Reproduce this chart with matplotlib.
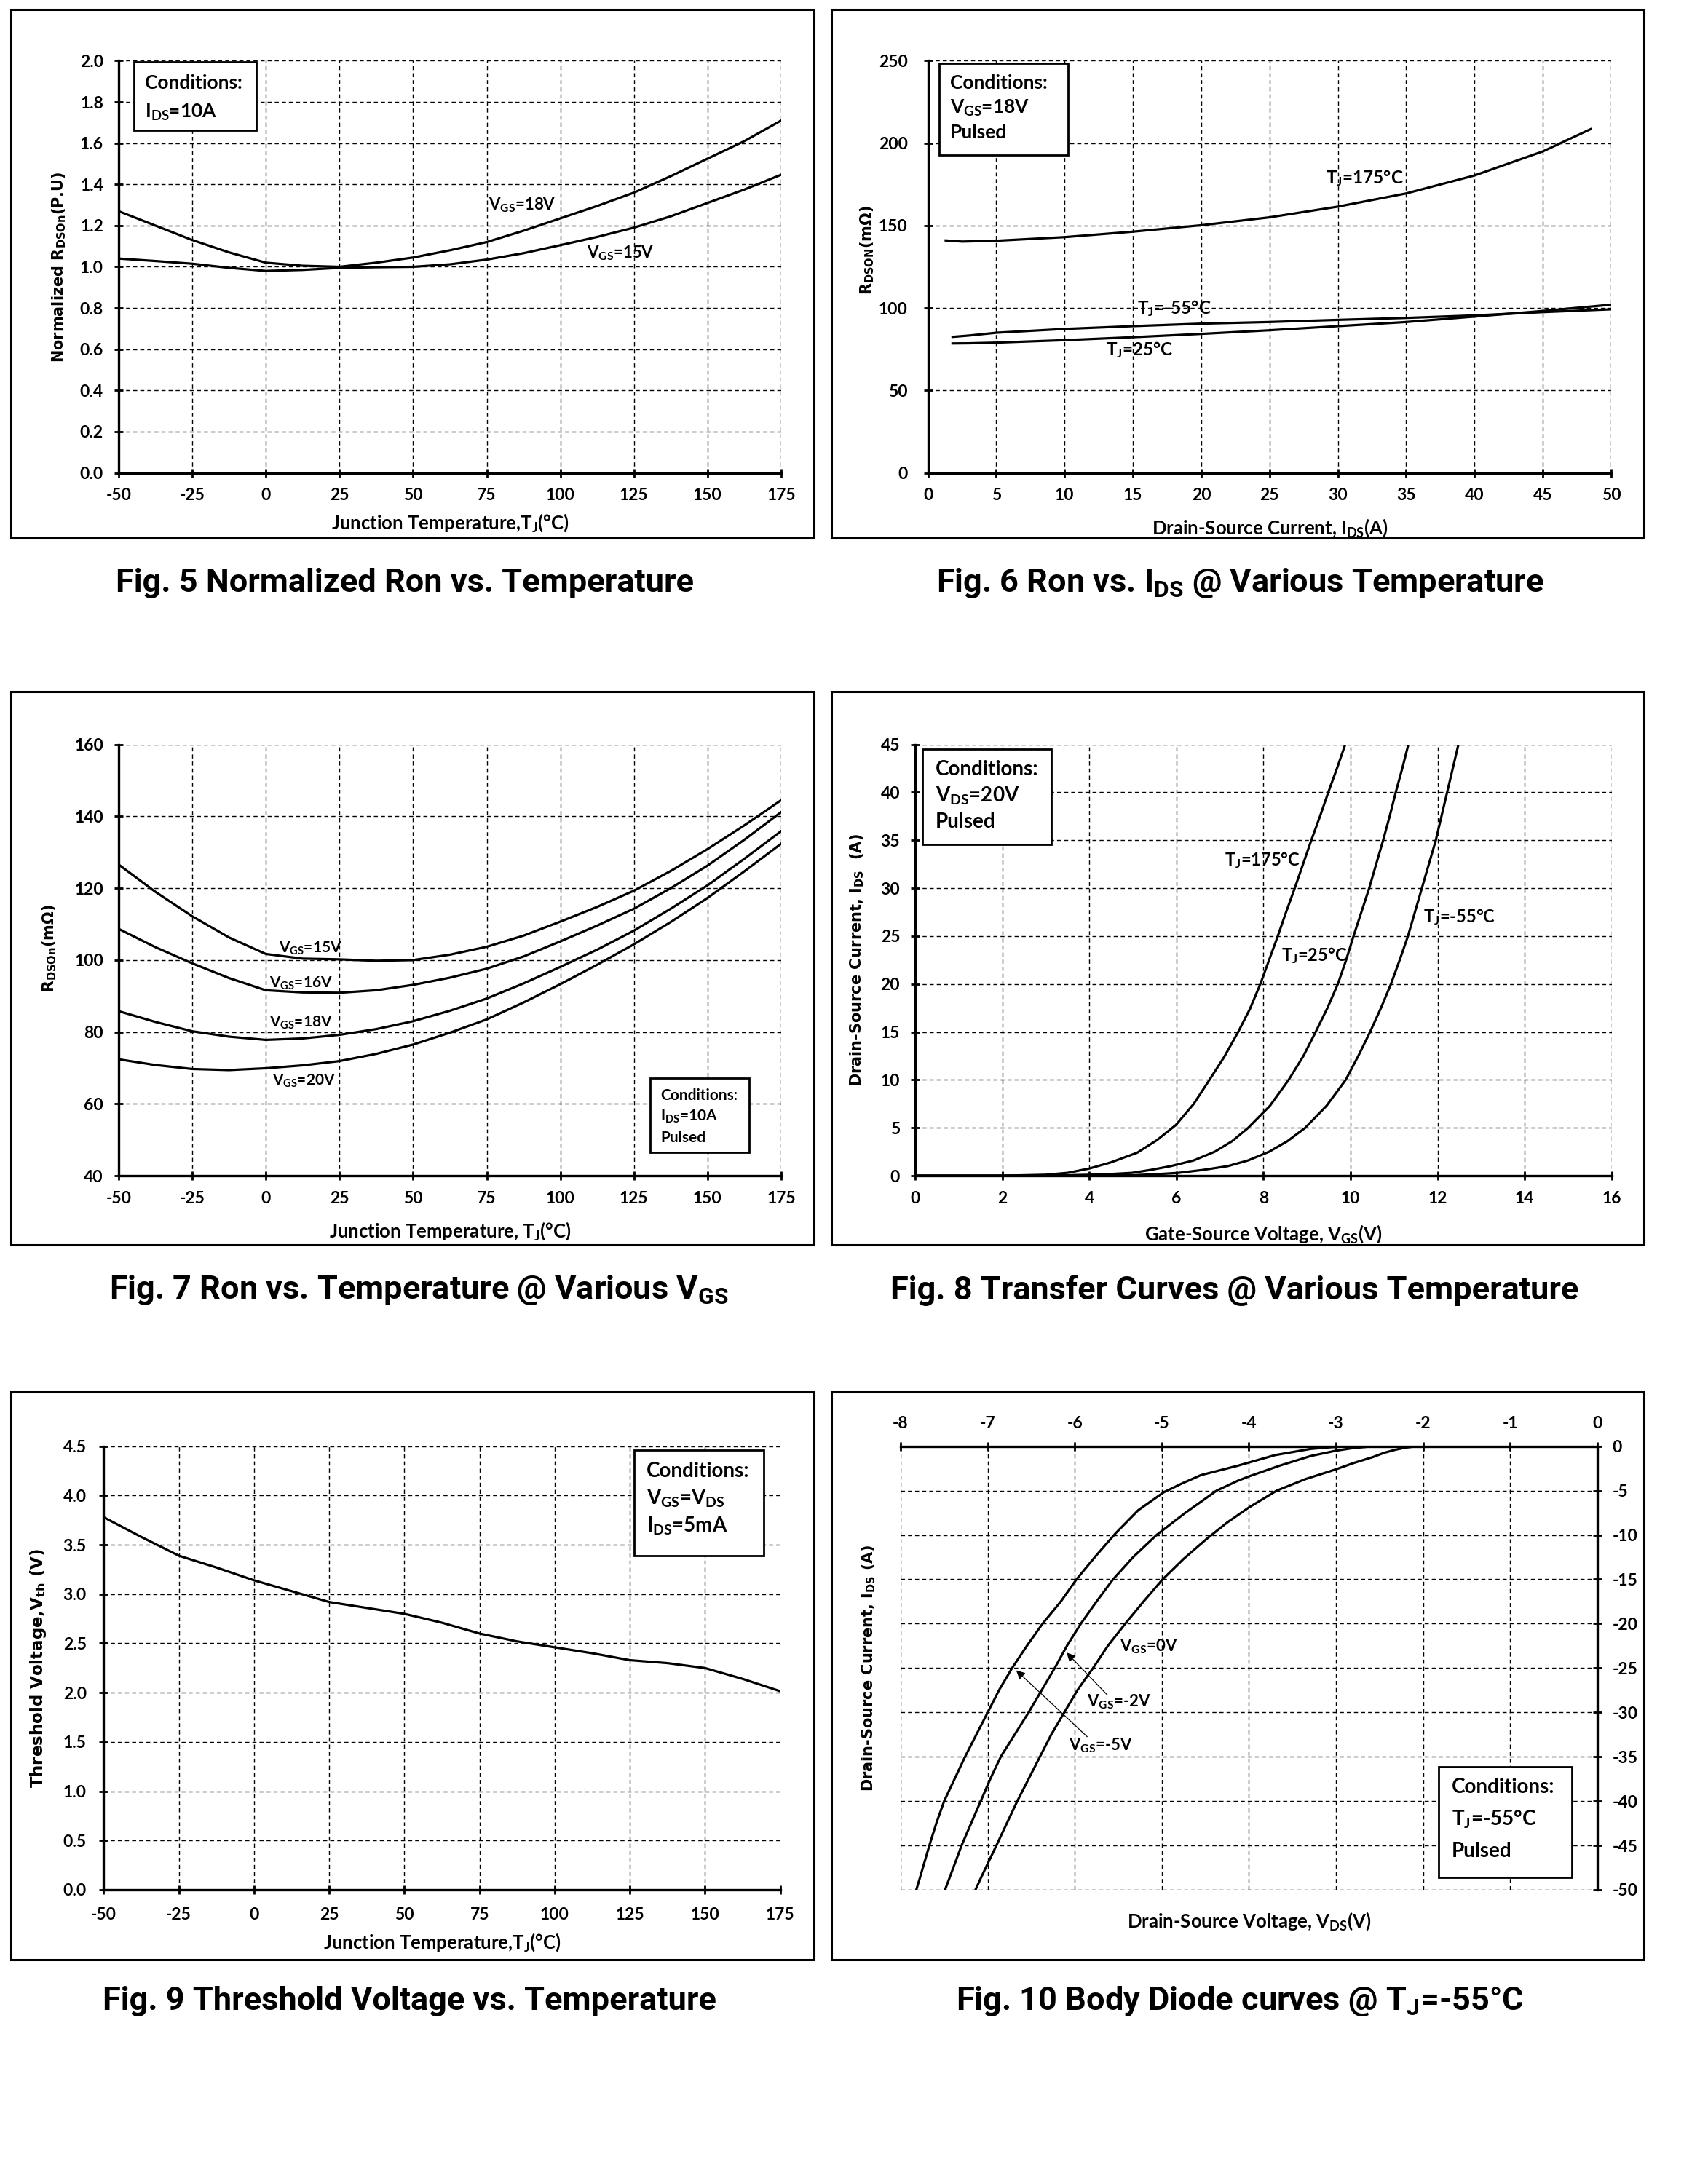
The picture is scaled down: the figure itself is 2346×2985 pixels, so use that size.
import matplotlib
matplotlib.use('Agg')
import matplotlib.pyplot as plt
from matplotlib.patches import Rectangle

plt.rcParams['font.family'] = ['Lato', 'DejaVu Sans']
plt.rcParams['font.weight'] = 'bold'
plt.rcParams['mathtext.default'] = 'regular'

# ---- data ----
# Fig 5: normalized Ron vs Tj
f5_t = [-50, -37.5, -25, -12.5, 0, 12.5, 25, 37.5, 50, 62.5, 75, 87.5, 100, 112.5, 125, 137.5, 150, 162.5, 175]
f5_vgs18 = [1.27, 1.20, 1.13, 1.07, 1.02, 1.005, 1.0, 1.02, 1.045, 1.08, 1.12, 1.175, 1.235, 1.295, 1.36, 1.44, 1.525, 1.61, 1.71]
f5_vgs15 = [1.04, 1.028, 1.015, 0.995, 0.98, 0.985, 0.995, 0.998, 1.0, 1.012, 1.035, 1.066, 1.105, 1.145, 1.19, 1.245, 1.31, 1.375, 1.447]

# Fig 6: Ron vs Ids
f6_ids_175 = [1.3, 2.5, 5, 10, 15, 20, 25, 30, 35, 40, 45, 48.5]
f6_r_175 = [141, 140.3, 140.8, 143, 146.3, 150.2, 155, 161.5, 169.5, 180.4, 195, 208.5]
f6_ids = [1.8, 3, 5, 10, 15, 20, 25, 30, 35, 40, 45, 50]
f6_r_m55 = [82.5, 83.3, 85, 87.3, 89, 90.5, 91.5, 92.8, 94, 95.5, 97.5, 99.2]
f6_r_25 = [78.5, 78.6, 79, 80.5, 82.3, 84.3, 86.5, 89, 91.5, 94.8, 98.2, 102]

# Fig 7: Ron vs Tj at various Vgs
f7_t = [-50, -37.5, -25, -12.5, 0, 12.5, 25, 37.5, 50, 62.5, 75, 87.5, 100, 112.5, 125, 137.5, 150, 162.5, 175]
f7_vgs15 = [126.6, 119, 112.2, 106.3, 101.7, 100.4, 100.2, 99.8, 100, 101.5, 103.7, 106.8, 110.7, 114.8, 119.3, 124.8, 130.9, 137.5, 144.5]
f7_vgs16 = [108.7, 103.6, 99.1, 95, 91.6, 91, 90.9, 91.6, 93.1, 95.1, 97.6, 101, 105.2, 109.6, 114.3, 120, 126.3, 133.5, 141.2]
f7_vgs18 = [85.8, 82.8, 80.2, 78.7, 77.8, 78.2, 79.2, 80.8, 83, 85.9, 89.3, 93.5, 98.1, 102.9, 108.2, 114.3, 120.8, 128.2, 135.9]
f7_vgs20 = [72.4, 70.8, 69.7, 69.4, 69.9, 70.7, 71.9, 73.9, 76.5, 79.8, 83.5, 88.2, 93.3, 98.7, 104.4, 110.6, 117.3, 124.7, 132.4]

# Fig 8: transfer curves
f8_v_175 = [0, 2, 3, 3.5, 4.0, 4.5, 5.1, 5.55, 5.99, 6.4, 6.76, 7.1, 7.42, 7.69, 7.93, 8.13, 8.33, 8.52, 8.72, 8.91, 9.1, 9.3, 9.49, 9.69, 9.88]
f8_i_175 = [0, 0, 0.1, 0.3, 0.75, 1.4, 2.4, 3.7, 5.3, 7.5, 10, 12.4, 15, 17.4, 20, 22.5, 25, 27.5, 30, 32.5, 35, 37.5, 40, 42.5, 45]
f8_v_25 = [0, 3, 4, 4.5, 4.98, 5.4, 5.87, 6.4, 6.88, 7.28, 7.65, 8.15, 8.58, 8.92, 9.2, 9.47, 9.71, 9.9, 10.07, 10.25, 10.43, 10.59, 10.75, 10.9, 11.04, 11.19, 11.33]
f8_i_25 = [0, 0, 0.1, 0.18, 0.3, 0.6, 1.0, 1.6, 2.5, 3.6, 5, 7.3, 10, 12.5, 15, 17.5, 20, 22.5, 25, 27.5, 30, 32.5, 35, 37.5, 40, 42.5, 45]
f8_v_m55 = [0, 4, 4.98, 5.5, 6.05, 6.6, 7.18, 7.65, 8.13, 8.55, 8.96, 9.45, 9.89, 10.18, 10.45, 10.7, 10.93, 11.13, 11.32, 11.48, 11.64, 11.8, 11.96, 12.09, 12.22, 12.35, 12.48]
f8_i_m55 = [0, 0, 0.05, 0.15, 0.3, 0.6, 1, 1.6, 2.5, 3.6, 5, 7.3, 10, 12.5, 15, 17.5, 20, 22.5, 25, 27.5, 30, 32.5, 35, 37.5, 40, 42.5, 45]

# Fig 9: threshold voltage vs Tj
f9_t = [-50, -37.5, -25, -12.5, 0, 12.5, 25, 37.5, 50, 62.5, 75, 87.5, 100, 112.5, 125, 137.5, 150, 162.5, 175]
f9_vth = [3.78, 3.58, 3.39, 3.27, 3.14, 3.03, 2.92, 2.86, 2.80, 2.71, 2.60, 2.52, 2.46, 2.40, 2.33, 2.30, 2.25, 2.14, 2.015]

# Fig 10: body diode at Tj=-55C
f10_v_0 = [-2.07, -2.2, -2.32, -2.45, -2.57, -2.8, -3.0, -3.35, -3.68, -4.0, -4.25, -4.48, -4.75, -4.99, -5.21, -5.42,
           -5.62, -5.79, -5.97, -6.12, -6.27, -6.40, -6.53, -6.66, -6.78, -6.90, -7.08, -7.14]
f10_i_0 = [0, -0.15, -0.4, -0.75, -1.2, -1.9, -2.6, -3.7, -5, -6.9, -8.6, -10.4, -12.7, -15, -17.5, -20,
           -22.5, -25, -27.5, -30, -32.5, -35, -37.5, -40, -42.5, -45, -48.7, -50]
f10_v_m2 = [-2.57, -2.8, -3.0, -3.29, -3.65, -4.0, -4.13, -4.37, -4.73, -5.06, -5.33, -5.56, -5.75, -5.93,
            -6.09, -6.23, -6.38, -6.53, -6.69, -6.85, -6.97, -7.08, -7.19, -7.30, -7.44, -7.49]
f10_i_m2 = [0, -0.2, -0.5, -1.1, -2.2, -3.4, -3.9, -5, -7.5, -10, -12.5, -15, -17.5, -20,
            -22.5, -25, -27.5, -30, -32.5, -35, -37.5, -40, -42.5, -45, -48.7, -50]
f10_v_m5 = [-2.87, -3.05, -3.29, -3.7, -4.13, -4.55, -4.77, -4.98, -5.27, -5.53, -5.77, -5.98, -6.16, -6.37,
            -6.55, -6.72, -6.87, -7.0, -7.13, -7.26, -7.38, -7.5, -7.59, -7.67, -7.78, -7.82]
f10_i_m5 = [0, -0.1, -0.3, -1.0, -2.2, -3.25, -4.2, -5.2, -7.2, -9.8, -12.5, -15, -17.5, -20,
            -22.5, -25, -27.5, -30, -32.5, -35, -37.5, -40, -42.5, -45, -48.7, -50]

LW = 2.3
TICK = 16.5
YLAB = dict(family='DejaVu Sans', weight='bold', size=15)
XLAB = dict(size=18.5, weight='bold')
CAP = dict(family=['Roboto', 'DejaVu Sans'], weight='bold', size=32.5,
           ha='center', va='center')


def setup(ax, xlim, ylim, xt, yt, yfmt='%d', pad=12):
    ax.set_xlim(xlim)
    ax.set_ylim(ylim)
    ax.set_xticks(xt)
    ax.set_yticks(yt)
    ax.set_xticklabels(['%d' % v for v in xt])
    ax.set_yticklabels([yfmt % v for v in yt])
    ax.set_axisbelow(True)
    ax.grid(True, color='black', lw=1.0, ls=(0, (4, 3)))
    for s in ['top', 'right']:
        ax.spines[s].set_visible(False)
    for s in ['left', 'bottom']:
        ax.spines[s].set_linewidth(2.4)
    ax.tick_params(direction='inout', length=8, width=2, labelsize=TICK, pad=pad)


def cond_box(ax, x0, y0, x1, y1, lines, size, first, step, padx):
    ax.add_patch(Rectangle((x0, y0), x1 - x0, y1 - y0, transform=ax.transAxes,
                           fc='white', ec='black', lw=2, zorder=5))
    for i, s in enumerate(lines):
        ax.annotate(s, xy=(x0, y1), xycoords='axes fraction',
                    xytext=(padx * 0.72, -(first + i * step) * 0.72), textcoords='offset points',
                    ha='left', va='center', size=size, weight='bold', zorder=6)


def frame(fig, x0, y0, x1, y1):
    fig.add_artist(Rectangle((x0, y0), x1 - x0, y1 - y0, transform=fig.transFigure,
                             fill=False, ec='black', lw=2.2))


fig = plt.figure(figsize=(23.46, 29.85), dpi=100)

frame(fig, 0.0064, 0.7524, 0.4766, 0.9957)
frame(fig, 0.4868, 0.7524, 0.9625, 0.9957)
frame(fig, 0.0064, 0.4271, 0.4766, 0.6817)
frame(fig, 0.4868, 0.4271, 0.9625, 0.6817)
frame(fig, 0.0064, 0.0982, 0.4766, 0.3595)
frame(fig, 0.4868, 0.0982, 0.9625, 0.3595)

# Fig 5
ax5 = fig.add_axes([0.0694, 0.7824, 0.3880, 0.18965])
setup(ax5, (-50, 175), (0, 2.0), range(-50, 176, 25), [i / 5 for i in range(11)], '%.1f', pad=11)
ax5.plot(f5_t, f5_vgs18, color='black', lw=LW)
ax5.plot(f5_t, f5_vgs15, color='black', lw=LW)
ax5.text(75.5, 1.30, 'V$_{GS}$=18V', size=16, va='center')
ax5.text(109, 1.065, 'V$_{GS}$=15V', size=16, va='center')
cond_box(ax5, 0.0233, 0.832, 0.2075, 0.997, ['Conditions:', 'I$_{DS}$=10A'], 19, 29, 40, 15)
ax5.set_ylabel('Normalized R$_{DSOn}$(P.U)', **YLAB)
ax5.yaxis.set_label_coords(-0.077, 0.5)
ax5.set_xlabel('Junction Temperature,T$_J$(°C)', **XLAB)
ax5.xaxis.set_label_coords(0.5, -0.095)

# Fig 6
ax6 = fig.add_axes([0.5433, 0.7824, 0.4000, 0.18965])
setup(ax6, (0, 50), (0, 250), range(0, 51, 5), range(0, 251, 50), pad=11)
ax6.tick_params(axis='y', pad=16)
ax6.plot(f6_ids_175, f6_r_175, color='black', lw=LW)
ax6.plot(f6_ids, f6_r_m55, color='black', lw=LW)
ax6.plot(f6_ids, f6_r_25, color='black', lw=LW)
ax6.text(29.1, 178.7, 'T$_J$=175°C', size=17.5, va='center')
ax6.text(15.3, 100, 'T$_J$=-55°C', size=17.5, va='center')
ax6.text(13.0, 74.5, 'T$_J$=25°C', size=17.5, va='center')
cond_box(ax6, 0.0164, 0.7705, 0.205, 0.993, ['Conditions:', 'V$_{GS}$=18V', 'Pulsed'], 19, 26.6, 34, 15)
ax6.set_ylabel('R$_{DSON}$(mΩ)', **YLAB)
ax6.yaxis.set_label_coords(-0.076, 0.54)
ax6.set_xlabel('Drain-Source Current, I$_{DS}$(A)', **XLAB)
ax6.xaxis.set_label_coords(0.5, -0.107)

# Fig 7
ax7 = fig.add_axes([0.0694, 0.45893, 0.3880, 0.19849])
setup(ax7, (-50, 175), (40, 160), range(-50, 176, 25), range(40, 161, 20), pad=11)
for vals in [f7_vgs15, f7_vgs16, f7_vgs18, f7_vgs20]:
    ax7.plot(f7_t, vals, color='black', lw=LW)
ax7.text(4.4, 103.2, 'V$_{GS}$=15V', size=15, va='center')
ax7.text(1.3, 93.6, 'V$_{GS}$=16V', size=15, va='center')
ax7.text(1.3, 82.5, 'V$_{GS}$=18V', size=15, va='center')
ax7.text(2.2, 66.4, 'V$_{GS}$=20V', size=15, va='center')
cond_box(ax7, 0.8018, 0.0537, 0.9517, 0.2267, ['Conditions:', 'I$_{DS}$=10A', 'Pulsed'], 15, 24, 29, 14.6)
ax7.set_ylabel('R$_{DSOn}$(mΩ)', **YLAB)
ax7.yaxis.set_label_coords(-0.0915, 0.527)
ax7.set_xlabel('Junction Temperature, T$_J$(°C)', **XLAB)
ax7.xaxis.set_label_coords(0.5, -0.103)

# Fig 8
ax8 = fig.add_axes([0.5358, 0.45893, 0.4078, 0.19849])
setup(ax8, (0, 16), (0, 45), range(0, 17, 2), range(0, 46, 5), pad=11)
ax8.plot(f8_v_175, f8_i_175, color='black', lw=LW)
ax8.plot(f8_v_25, f8_i_25, color='black', lw=LW)
ax8.plot(f8_v_m55, f8_i_m55, color='black', lw=LW)
ax8.text(7.11, 32.9, 'T$_J$=175°C', size=17, va='center')
ax8.text(8.42, 23.0, 'T$_J$=25°C', size=17, va='center')
ax8.text(11.68, 27.0, 'T$_J$=-55°C', size=17, va='center')
cond_box(ax8, 0.0105, 0.7674, 0.1953, 0.99, ['Conditions:', 'V$_{DS}$=20V', 'Pulsed'], 20, 28.3, 36, 17.7)
ax8.set_ylabel('Drain-Source Current, I$_{DS}$  (A)', **YLAB)
ax8.yaxis.set_label_coords(-0.071, 0.5)
ax8.set_xlabel('Gate-Source Voltage, V$_{GS}$(V)', **XLAB)
ax8.xaxis.set_label_coords(0.5, -0.111)

# Fig 9
ax9 = fig.add_axes([0.0607, 0.13032, 0.3961, 0.20412])
setup(ax9, (-50, 175), (0, 4.5), range(-50, 176, 25), [i / 2 for i in range(10)], '%.1f', pad=13)
ax9.plot(f9_t, f9_vth, color='black', lw=LW)
cond_box(ax9, 0.7838, 0.7525, 0.9756, 0.991, ['Conditions:', 'V$_{GS}$=V$_{DS}$', 'I$_{DS}$=5mA'], 20, 28.5, 38, 16.8)
ax9.set_ylabel('Threshold Voltage,V$_{th}$ (V)', family='DejaVu Sans', weight='bold', size=16.5)
ax9.yaxis.set_label_coords(-0.082, 0.5)
ax9.set_xlabel('Junction Temperature,T$_J$(°C)', **XLAB)
ax9.xaxis.set_label_coords(0.5, -0.095)

# Fig 10
ax10 = fig.add_axes([0.5273, 0.13032, 0.4078, 0.20412])
setup(ax10, (-8, 0), (-50, 0), range(-8, 1, 1), range(0, -51, -5), pad=11)
ax10.xaxis.tick_top()
ax10.yaxis.tick_right()
ax10.tick_params(direction='inout', length=8, width=2, labelsize=TICK, pad=11)
for s in ['top', 'right']:
    ax10.spines[s].set_visible(True)
    ax10.spines[s].set_linewidth(2.4)
for s in ['left', 'bottom']:
    ax10.spines[s].set_visible(False)
ax10.plot(f10_v_0, f10_i_0, color='black', lw=LW)
ax10.plot(f10_v_m2, f10_i_m2, color='black', lw=LW)
ax10.plot(f10_v_m5, f10_i_m5, color='black', lw=LW)
ax10.text(-5.48, -22.6, 'V$_{GS}$=0V', size=16, va='center')
ax10.text(-5.86, -28.8, 'V$_{GS}$=-2V', size=16, va='center')
ax10.text(-6.07, -33.7, 'V$_{GS}$=-5V', size=16, va='center')
ax10.annotate('', xy=(-6.11, -23.1), xytext=(-5.61, -28.2),
              arrowprops=dict(arrowstyle='-|>', lw=0.9, color='black', mutation_scale=18))
ax10.annotate('', xy=(-6.69, -25.1), xytext=(-5.84, -32.9),
              arrowprops=dict(arrowstyle='-|>', lw=0.9, color='black', mutation_scale=18))
cond_box(ax10, 0.7725, 0.0277, 0.9638, 0.278, ['Conditions:', 'T$_J$=-55°C', 'Pulsed'], 20, 28.5, 44, 17.7)
ax10.set_ylabel('Drain-Source Current, I$_{DS}$ (A)', **YLAB)
ax10.yaxis.set_label_position('left')
ax10.yaxis.set_label_coords(-0.033, 0.5)
ax10.set_xlabel('Drain-Source Voltage, V$_{DS}$(V)', **XLAB)
ax10.xaxis.set_label_position('bottom')
ax10.xaxis.set_label_coords(0.5, -0.046)

# captions
fig.text(0.237, 0.7315, 'Fig. 5 Normalized Ron vs. Temperature', **CAP)
fig.text(0.726, 0.7315, 'Fig. 6 Ron vs. I$_{DS}$ @ Various Temperature', **CAP)
fig.text(0.245, 0.4062, 'Fig. 7 Ron vs. Temperature @ Various V$_{GS}$', **CAP)
fig.text(0.723, 0.4062, 'Fig. 8 Transfer Curves @ Various Temperature', **CAP)
fig.text(0.2398, 0.0789, 'Fig. 9 Threshold Voltage vs. Temperature', **CAP)
fig.text(0.726, 0.0789, 'Fig. 10 Body Diode curves @ T$_J$=-55°C', **CAP)

fig.savefig('out.png', dpi=100)
